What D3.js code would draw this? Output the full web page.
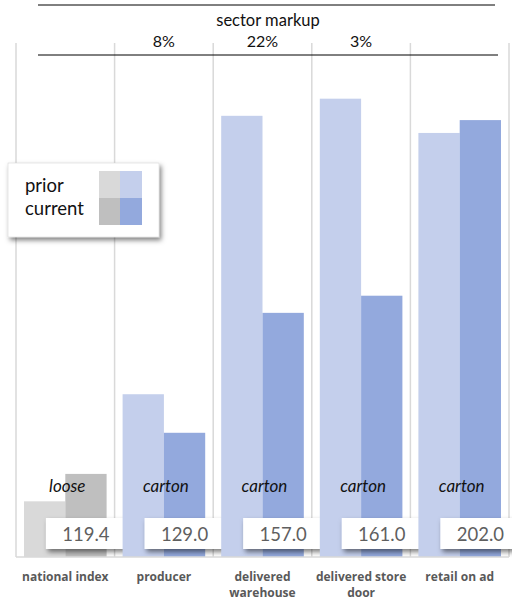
<!DOCTYPE html>
<html>
<head>
<meta charset="utf-8">
<script src="https://cdn.jsdelivr.net/npm/d3@7"></script>
<style>
  body { margin: 0; background: #fff; }
  text { font-family: Lato, "Open Sans", sans-serif; }
  text.cat-label { font-family: "Open Sans", sans-serif; }
</style>
</head>
<body>
<div id="chart"></div>
<script>
// chart data
const categories = ["national index", "producer", "delivered warehouse", "delivered store door", "retail on ad"];
const labelLines = [["national index"], ["producer"], ["delivered", "warehouse"], ["delivered store", "door"], ["retail on ad"]];
const priorValues = [113, 138, 203, 207, 199];
const currentValues = [119.4, 129.0, 157.0, 161.0, 202.0];
const packTypes = ["loose", "carton", "carton", "carton", "carton"];
const markups = ["", "8%", "22%", "3%", ""];
const seriesNames = ["prior", "current"];

const W = 512, H = 600;
const colors = {
    gray: ["#d9d9d9", "#bfbfbf"],
    blue: ["#c4cfec", "#93a9dd"]
};

const svg = d3.select("#chart").append("svg")
    .attr("width", W)
    .attr("height", H);

// drop shadow for boxes
const defs = svg.append("defs");
const f = defs.append("filter").attr("id", "shadow")
    .attr("x", "-20%").attr("y", "-30%").attr("width", "150%").attr("height", "180%");
f.append("feDropShadow")
    .attr("dx", 2).attr("dy", 3)
    .attr("stdDeviation", 2.5)
    .attr("flood-color", "#000")
    .attr("flood-opacity", 0.5);

// scales
const x0 = d3.scaleBand()
    .domain(categories)
    .range([16, 509])
    .padding(0);

const x1 = d3.scaleBand()
    .domain(seriesNames)
    .range([8, x0.bandwidth() - 8]);

const y = d3.scaleLinear()
    .domain([100, 220])
    .range([557, 43]);

// vertical gridlines at band edges
const edges = categories.map(c => x0(c)).concat([x0.range()[1]]);
svg.append("g").selectAll("line")
    .data(edges)
    .enter().append("line")
    .attr("x1", d => d).attr("x2", d => d)
    .attr("y1", y(220)).attr("y2", y(100))
    .attr("stroke", "#d9d9d9")
    .attr("stroke-width", 1.5);

// bars
const rows = categories.map((c, i) => ({
    cat: c, i: i,
    vals: [
        {key: "prior", v: priorValues[i]},
        {key: "current", v: currentValues[i]}
    ]
}));

const groups = svg.append("g").selectAll("g")
    .data(rows)
    .enter().append("g")
    .attr("transform", d => `translate(${x0(d.cat)},0)`);

groups.selectAll("rect")
    .data(d => d.vals.map((v, j) => ({...v, j: j, gray: d.i === 0})))
    .enter().append("rect")
    .attr("x", d => x1(d.key))
    .attr("width", x1.bandwidth())
    .attr("y", d => y(d.v))
    .attr("height", d => y(100) - y(d.v))
    .attr("fill", d => d.gray ? colors.gray[d.j] : colors.blue[d.j]);

// baseline
svg.append("line")
    .attr("x1", 16).attr("x2", 509)
    .attr("y1", y(100)).attr("y2", y(100))
    .attr("stroke", "#d9d9d9")
    .attr("stroke-width", 1.5);

// pack type labels
groups.append("text")
    .attr("x", x0.bandwidth() / 2 + 2)
    .attr("y", 492)
    .attr("text-anchor", "middle")
    .attr("font-style", "italic")
    .attr("font-size", 17)
    .attr("fill", "#111")
    .text(d => packTypes[d.i]);

// value boxes on current bar
const boxes = groups.append("g")
    .attr("transform", d => `translate(${x1("current") + x1.bandwidth() / 2},0)`);
boxes.append("rect")
    .attr("x", -40).attr("width", 80)
    .attr("y", 518).attr("height", 31)
    .attr("fill", "#fff")
    .attr("filter", "url(#shadow)");
boxes.append("text")
    .attr("x", 0)
    .attr("y", 541)
    .attr("text-anchor", "middle")
    .attr("font-size", 18.5)
    .attr("fill", "#5f5f5f")
    .text(d => d3.format(".1f")(currentValues[d.i]));

// category axis labels
groups.append("text")
    .attr("class", "cat-label")
    .attr("x", x0.bandwidth() / 2)
    .attr("y", 581)
    .attr("text-anchor", "middle")
    .attr("font-size", 12)
    .attr("font-weight", "bold")
    .attr("fill", "#595959")
    .selectAll("tspan")
    .data(d => labelLines[d.i])
    .enter().append("tspan")
    .attr("x", x0.bandwidth() / 2)
    .attr("dy", (d, k) => k === 0 ? 0 : 16)
    .text(d => d);

// header: sector markup
svg.append("line")
    .attr("x1", 38).attr("x2", 495)
    .attr("y1", 5).attr("y2", 5)
    .attr("stroke", "#000");
svg.append("line")
    .attr("x1", 38).attr("x2", 498)
    .attr("y1", 55).attr("y2", 55)
    .attr("stroke", "#000");
svg.append("text")
    .attr("x", 268).attr("y", 26)
    .attr("text-anchor", "middle")
    .attr("font-size", 16.5)
    .attr("fill", "#111")
    .text("sector markup");
svg.append("g").selectAll("text")
    .data(categories)
    .enter().append("text")
    .attr("x", d => x0(d) + x0.bandwidth() / 2)
    .attr("y", 47)
    .attr("text-anchor", "middle")
    .attr("font-size", 16)
    .attr("fill", "#111")
    .text((d, i) => markups[i]);

// legend
const legend = svg.append("g").attr("transform", "translate(8,163)");
legend.append("rect")
    .attr("width", 151).attr("height", 74)
    .attr("fill", "#fff")
    .attr("stroke", "#d0d0d0")
    .attr("stroke-width", 0.5)
    .attr("filter", "url(#shadow)");
seriesNames.forEach((s, j) => {
    legend.append("text")
        .attr("x", 17)
        .attr("y", 29 + j * 23)
        .attr("font-size", 18.5)
        .attr("fill", "#111")
        .text(s);
    legend.append("rect")
        .attr("x", 91).attr("y", 8 + j * 27)
        .attr("width", 21).attr("height", 27)
        .attr("fill", colors.gray[j]);
    legend.append("rect")
        .attr("x", 112).attr("y", 8 + j * 27)
        .attr("width", 22).attr("height", 27)
        .attr("fill", colors.blue[j]);
});
</script>
</body>
</html>
